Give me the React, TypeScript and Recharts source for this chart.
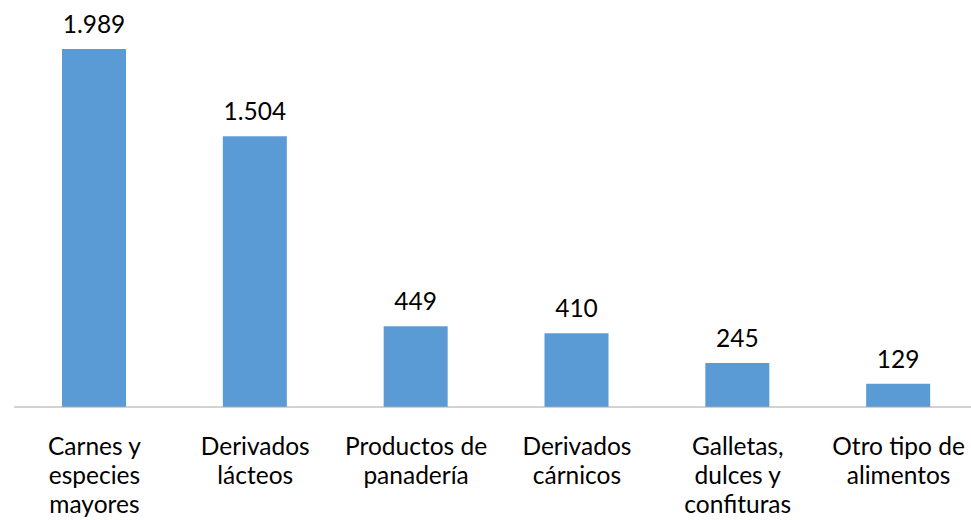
import { BarChart, Bar, XAxis, YAxis, LabelList } from "recharts";

const categories = [
  "Carnes y\nespecies\nmayores",
  "Derivados\nlácteos",
  "Productos de\npanadería",
  "Derivados\ncárnicos",
  "Galletas,\ndulces y\nconfituras",
  "Otro tipo de\nalimentos",
];
const values = [1989, 1504, 449, 410, 245, 129];

const data = categories.map((name, i) => ({ name, value: values[i] }));

const FONT = "Lato, 'Open Sans', sans-serif";

const fmt = (v: number) => String(v).replace(/\B(?=(\d{3})+(?!\d))/g, ".");

function CategoryTick({ x, y, payload }: any) {
  const lines = String(payload.value).split("\n");
  return (
    <text
      x={x}
      y={y}
      textAnchor="middle"
      fontFamily={FONT}
      fontSize={24.5}
      fill="#000"
    >
      {lines.map((l, i) => (
        <tspan key={i} x={x} y={407 + 48 + i * 29}>
          {l}
        </tspan>
      ))}
    </text>
  );
}

export default function App() {
  return (
    <div style={{ position: "absolute", left: 0, top: 0, background: "#fff" }}>
      <BarChart
        width={971}
        height={520}
        data={data}
        margin={{ top: 47, right: -8, bottom: 0, left: 14 }}
        style={{ overflow: "hidden" }}
      >
        <XAxis
          dataKey="name"
          interval={0}
          tickLine={false}
          axisLine={{ stroke: "#a6a6a6", strokeWidth: 1 }}
          tick={<CategoryTick />}
          height={113}
        />
        <YAxis hide domain={[0, 2000]} />
        <Bar
          dataKey="value"
          fill="#5b9bd5"
          barSize={64}
          isAnimationActive={false}
        >
          <LabelList
            dataKey="value"
            position="top"
            offset={16}
            formatter={(v: any) => fmt(Number(v))}
            style={{ fontFamily: FONT, fontSize: 24.5, fill: "#000" }}
          />
        </Bar>
      </BarChart>
    </div>
  );
}
